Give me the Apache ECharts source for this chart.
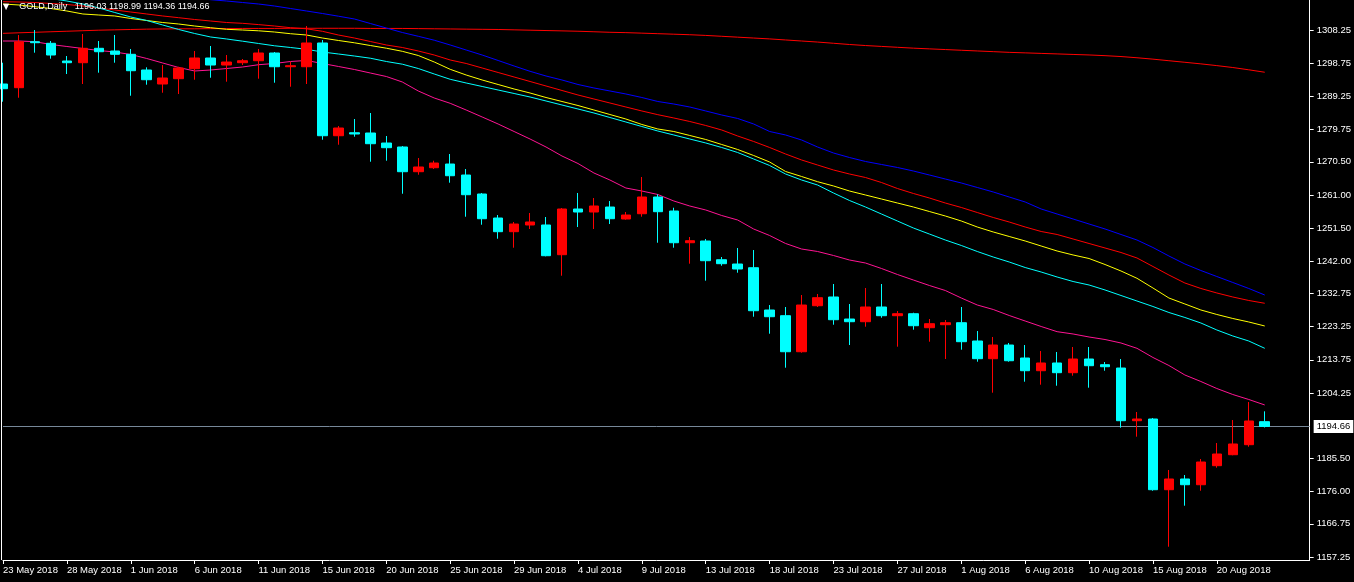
<!DOCTYPE html>
<html><head><meta charset="utf-8">
<script src="https://cdn.jsdelivr.net/npm/echarts@6/dist/echarts.min.js"></script>
<style>html,body{margin:0;padding:0;background:#000;}#c{width:1354px;height:582px;}</style>
</head><body><div id="c"></div>
<script>
const symbolName = 'GOLD,Daily';
const dates = ['23 May 2018','24 May 2018','25 May 2018','27 May 2018','28 May 2018','29 May 2018','30 May 2018','31 May 2018','1 Jun 2018','3 Jun 2018',
'4 Jun 2018','5 Jun 2018','6 Jun 2018','7 Jun 2018','8 Jun 2018','10 Jun 2018','11 Jun 2018','12 Jun 2018','13 Jun 2018','14 Jun 2018',
'15 Jun 2018','17 Jun 2018','18 Jun 2018','19 Jun 2018','20 Jun 2018','21 Jun 2018','22 Jun 2018','24 Jun 2018','25 Jun 2018','26 Jun 2018',
'27 Jun 2018','28 Jun 2018','29 Jun 2018','1 Jul 2018','2 Jul 2018','3 Jul 2018','4 Jul 2018','5 Jul 2018','6 Jul 2018','8 Jul 2018',
'9 Jul 2018','10 Jul 2018','11 Jul 2018','12 Jul 2018','13 Jul 2018','15 Jul 2018','16 Jul 2018','17 Jul 2018','18 Jul 2018','19 Jul 2018',
'20 Jul 2018','22 Jul 2018','23 Jul 2018','24 Jul 2018','25 Jul 2018','26 Jul 2018','27 Jul 2018','29 Jul 2018','30 Jul 2018','31 Jul 2018',
'1 Aug 2018','2 Aug 2018','3 Aug 2018','5 Aug 2018','6 Aug 2018','7 Aug 2018','8 Aug 2018','9 Aug 2018','10 Aug 2018','12 Aug 2018',
'13 Aug 2018','14 Aug 2018','15 Aug 2018','16 Aug 2018','17 Aug 2018','19 Aug 2018','20 Aug 2018','21 Aug 2018','22 Aug 2018','23 Aug 2018'];

const opens = [1292.78,1291.72,1304.90,1304.44,1299.37,1298.88,1303.01,1302.23,1301.29,1296.79,
1292.78,1294.30,1297.16,1300.23,1298.22,1298.88,1299.45,1301.66,1297.73,1297.73,
1304.53,1277.96,1278.82,1278.74,1275.87,1274.73,1267.65,1268.79,1269.85,1266.70,
1261.26,1254.38,1250.46,1252.38,1252.38,1243.87,1256.96,1256.10,1257.53,1254.10,
1255.61,1260.40,1256.39,1247.30,1247.79,1242.43,1241.20,1240.14,1228.02,1226.39,
1216.07,1229.25,1231.75,1225.44,1224.67,1228.88,1226.39,1226.96,1222.95,1223.81,
1224.38,1219.14,1214.07,1217.99,1214.27,1210.63,1212.84,1210.06,1213.98,1212.35,
1211.40,1196.30,1196.79,1176.53,1179.60,1177.96,1183.41,1186.56,1189.43,1196.03];
const closes = [1291.43,1304.90,1304.61,1301.09,1298.88,1303.01,1302.03,1301.29,1296.59,1294.01,
1294.50,1297.36,1300.23,1298.22,1299.08,1299.45,1301.66,1297.73,1298.02,1304.53,
1277.96,1280.17,1278.45,1275.67,1274.53,1267.65,1269.00,1270.14,1266.50,1261.06,
1254.18,1250.46,1252.66,1253.24,1243.58,1256.96,1256.10,1257.82,1254.18,1255.24,
1260.40,1256.19,1247.30,1247.88,1242.15,1241.29,1239.77,1227.82,1226.10,1216.07,
1229.45,1231.55,1225.24,1224.67,1228.88,1226.39,1226.96,1223.52,1224.10,1224.38,
1218.94,1214.07,1217.99,1213.49,1210.63,1212.84,1210.06,1213.98,1212.06,1211.77,
1196.30,1196.79,1176.53,1179.60,1177.96,1184.47,1186.76,1189.63,1196.22,1194.66];
const lows = [1287.71,1288.85,1301.75,1300.03,1295.64,1292.78,1296.02,1298.88,1289.42,1292.58,
1290.28,1289.91,1294.01,1294.58,1293.44,1298.22,1294.30,1293.15,1292.00,1292.78,
1276.82,1275.38,1277.68,1270.51,1270.80,1261.34,1266.79,1268.42,1264.50,1254.75,
1252.46,1248.45,1245.87,1251.23,1243.40,1237.85,1251.80,1251.23,1252.66,1253.90,
1254.75,1247.30,1245.87,1241.29,1236.42,1240.71,1238.71,1226.10,1221.23,1211.49,
1215.79,1228.88,1223.81,1217.99,1223.24,1225.81,1217.51,1222.38,1218.94,1213.98,
1216.65,1213.21,1204.33,1213.21,1207.48,1206.62,1206.33,1209.20,1205.76,1210.63,
1194.30,1191.72,1176.24,1160.20,1171.95,1176.24,1182.84,1186.40,1188.85,1194.36];
const highs = [1298.88,1306.82,1308.25,1305.10,1300.80,1307.10,1305.10,1306.82,1302.81,1297.56,
1298.22,1297.73,1302.23,1303.67,1301.09,1299.94,1302.81,1301.95,1299.17,1309.40,
1305.38,1280.74,1282.75,1284.47,1277.88,1275.00,1271.57,1270.80,1272.72,1268.42,
1261.55,1255.24,1253.24,1255.82,1254.67,1257.25,1261.55,1260.11,1259.25,1256.10,
1266.13,1261.17,1257.33,1248.94,1248.37,1243.21,1245.79,1245.21,1229.45,1228.88,
1232.32,1232.61,1235.47,1229.74,1234.33,1235.47,1227.73,1227.25,1225.44,1225.16,
1228.88,1222.00,1220.29,1218.57,1217.99,1216.27,1215.99,1217.42,1217.42,1213.12,
1213.98,1198.80,1197.08,1182.18,1180.74,1185.33,1189.91,1196.50,1201.66,1198.99];

const maPink = [1305.10,1305.10,1304.90,1304.10,1303.53,1302.95,1302.38,1301.95,1301.23,1300.09,
1298.80,1297.51,1296.51,1296.79,1297.22,1297.65,1298.31,1298.66,1299.23,1299.52,
1298.66,1297.80,1296.94,1295.93,1294.93,1293.36,1290.78,1288.77,1287.25,1285.33,
1283.33,1281.32,1279.17,1277.02,1274.73,1272.15,1270.00,1267.28,1265.27,1262.98,
1262.12,1261.12,1259.26,1257.82,1256.68,1255.10,1253.81,1251.23,1249.37,1247.08,
1245.50,1244.79,1243.64,1242.35,1241.49,1239.92,1238.20,1236.62,1235.05,1233.61,
1231.46,1229.46,1228.17,1226.45,1224.87,1223.30,1221.81,1221.15,1220.29,1219.57,
1218.57,1217.05,1214.42,1212.12,1209.40,1207.54,1205.53,1203.81,1202.38,1200.81];
const maCyan = [1319.72,1318.57,1317.71,1317.28,1316.56,1315.70,1314.56,1313.27,1311.98,1310.98,
1309.69,1308.40,1307.25,1306.25,1305.68,1305.05,1304.39,1303.73,1303.24,1302.72,
1301.95,1301.38,1300.80,1300.17,1299.23,1298.46,1297.22,1295.65,1294.13,1293.07,
1292.07,1291.06,1290.06,1289.06,1287.91,1286.76,1285.62,1284.47,1283.18,1281.89,
1280.60,1279.31,1278.17,1277.02,1275.88,1274.59,1273.15,1271.29,1269.43,1266.99,
1265.27,1263.84,1261.55,1259.40,1257.54,1255.53,1253.53,1251.52,1249.80,1248.08,
1246.51,1244.79,1243.21,1241.78,1240.20,1238.91,1237.48,1236.19,1235.19,1233.76,
1232.18,1230.60,1229.03,1227.31,1225.88,1224.30,1222.30,1220.58,1219.14,1217.05];
const maYellow = [1315.70,1315.42,1314.93,1314.41,1313.70,1312.84,1312.55,1312.27,1311.55,1310.98,
1310.40,1309.97,1309.40,1308.91,1308.45,1308.25,1308.03,1307.68,1307.19,1306.82,
1305.96,1305.25,1304.59,1303.81,1303.04,1302.15,1300.95,1299.09,1296.99,1295.36,
1293.93,1292.64,1291.35,1290.20,1288.91,1287.77,1286.62,1285.33,1284.04,1282.75,
1281.18,1279.89,1279.17,1278.03,1276.88,1275.45,1274.01,1272.29,1270.43,1267.71,
1266.28,1264.79,1263.56,1262.12,1260.98,1259.83,1258.68,1257.54,1256.25,1254.96,
1253.53,1251.81,1250.38,1249.09,1247.80,1246.36,1244.93,1243.79,1242.78,1241.06,
1239.20,1237.11,1234.33,1231.46,1229.75,1228.03,1226.74,1225.59,1224.59,1223.44];
const maRed = [1316.36,1316.28,1316.13,1315.85,1315.56,1315.13,1314.56,1313.99,1313.41,1312.84,
1312.27,1311.78,1311.26,1310.83,1310.40,1310.17,1309.80,1309.40,1308.91,1308.60,
1307.88,1306.82,1305.96,1304.96,1303.96,1303.24,1302.24,1301.09,1299.66,1298.66,
1297.37,1296.08,1294.79,1293.50,1292.21,1290.92,1289.63,1288.48,1287.34,1286.19,
1285.05,1283.99,1283.04,1282.04,1280.89,1279.60,1277.88,1276.31,1274.59,1272.72,
1271.01,1269.57,1268.14,1266.99,1265.99,1264.56,1262.84,1261.41,1260.12,1258.68,
1257.40,1255.96,1254.53,1253.24,1251.81,1250.52,1249.66,1248.37,1247.08,1245.79,
1244.50,1242.93,1240.49,1238.05,1235.76,1234.19,1232.90,1231.75,1230.75,1229.95];
const maBlue = [null,null,null,null,null,null,null,null,null,null,
1318.28,1317.85,1317.28,1316.94,1316.56,1316.13,1315.70,1315.13,1314.41,1313.70,
1312.98,1312.21,1311.41,1310.12,1308.83,1307.54,1306.45,1305.33,1303.96,1302.52,
1301.09,1299.52,1297.94,1296.42,1295.07,1293.93,1292.64,1291.64,1290.78,1289.92,
1288.91,1287.77,1287.05,1286.19,1285.05,1283.90,1282.90,1281.32,1279.17,1278.17,
1276.74,1274.73,1273.01,1271.72,1270.58,1269.72,1268.86,1267.85,1266.71,1265.56,
1264.42,1263.13,1261.84,1260.40,1258.97,1256.97,1255.53,1254.10,1252.67,1251.24,
1249.66,1248.08,1245.93,1243.50,1241.21,1239.34,1237.62,1235.91,1234.19,1232.32];
const ma200 = [1307.30,1307.45,1307.60,1307.75,1307.90,1308.05,1308.20,1308.30,1308.40,1308.50,
1308.55,1308.60,1308.60,1308.65,1308.65,1308.70,1308.70,1308.70,1308.75,1308.75,
1308.75,1308.75,1308.75,1308.70,1308.70,1308.70,1308.65,1308.60,1308.55,1308.50,
1308.45,1308.40,1308.30,1308.20,1308.10,1308.00,1307.90,1307.75,1307.60,1307.50,
1307.35,1307.20,1307.05,1306.90,1306.70,1306.45,1306.20,1305.95,1305.70,1305.40,
1305.10,1304.80,1304.45,1304.10,1303.80,1303.55,1303.30,1303.05,1302.85,1302.65,
1302.45,1302.25,1302.05,1301.85,1301.70,1301.55,1301.40,1301.25,1301.10,1300.90,
1300.65,1300.30,1299.90,1299.45,1299.00,1298.55,1298.05,1297.50,1296.85,1296.15];

const yTicks = [1308.25,1298.75,1289.25,1279.75,1270.50,1261.00,1251.50,1242.00,1232.75,1223.25,1213.75,1204.25,1185.50,1176.00,1166.75,1157.25];
const xTickIdx = [0,4,8,12,16,20,24,28,32,36,40,44,48,52,56,60,64,68,72,76];

const font = '"Liberation Sans", Arial, sans-serif';
const n = dates.length, last = n - 1;
const candle = dates.map((d, i) => [i, opens[i], closes[i], lows[i], highs[i]]);
const toLine = arr => arr.map((v, i) => [i, v]).filter(p => p[1] != null);
const lineSeries = (name, arr, color) => ({
  type: 'line', name, data: toLine(arr), showSymbol: false, symbol: 'none',
  lineStyle: { color, width: 1 }, itemStyle: { color }, z: 2, silent: true, clip: true
});
const header = symbolName + '   ' + [opens[last], highs[last], lows[last], closes[last]].map(v => v.toFixed(2)).join(' ');

const chart = echarts.init(document.getElementById('c'));
chart.setOption({
  backgroundColor: '#000000',
  animation: false,
  title: {
    text: '{tri|▼}    ' + header, left: 3, top: 2, padding: 0,
    textStyle: { color: '#ffffff', fontSize: 9, fontWeight: 'normal', fontFamily: font,
      rich: { tri: { fontSize: 8, color: '#ffffff', fontFamily: 'DejaVu Sans' } } }
  },
  graphic: [{
    type: 'line', silent: true, z: 10,
    shape: { x1: 1.5, y1: 0, x2: 1.5, y2: 560 },
    style: { stroke: '#ffffff', lineWidth: 1 }
  }],
  grid: { left: 2, right: 43, top: 0, bottom: 22 },
  xAxis: {
    type: 'value', min: 0, max: 81.8125, splitLine: { show: false },
    axisLine: { show: true, onZero: false, lineStyle: { color: '#ffffff', width: 1 } },
    axisTick: { show: true, length: 4, customValues: xTickIdx, lineStyle: { color: '#ffffff' } },
    axisLabel: { customValues: xTickIdx, formatter: v => dates[v] || '', align: 'left', margin: 5,
      color: '#ffffff', fontSize: 9.5, fontFamily: font }
  },
  yAxis: {
    type: 'value', position: 'right', min: 1156.39, max: 1316.85, scale: true,
    splitLine: { show: false },
    axisLine: { show: true, onZero: false, lineStyle: { color: '#ffffff', width: 1 } },
    axisTick: { show: true, length: 4, customValues: yTicks, lineStyle: { color: '#ffffff' } },
    axisLabel: { customValues: yTicks, formatter: v => Number(v).toFixed(2), margin: 7,
      color: '#ffffff', fontSize: 9.5, fontFamily: font }
  },
  series: [
    lineSeries('MA200', ma200, '#ff0000'),
    lineSeries('MA blue', maBlue, '#0000ff'),
    lineSeries('MA red', maRed, '#ff0000'),
    lineSeries('MA yellow', maYellow, '#ffff00'),
    lineSeries('MA cyan', maCyan, '#00ffff'),
    lineSeries('MA pink', maPink, '#ff1493'),
    {
      type: 'candlestick', name: symbolName, data: candle,
      encode: { x: 0, y: [1, 2, 3, 4] },
      barWidth: 10, z: 3, clip: true, silent: true,
      itemStyle: { color: '#ff0000', color0: '#00ffff', borderColor: '#ff0000', borderColor0: '#00ffff', borderWidth: 1 },
      markLine: {
        silent: true, symbol: ['none', 'none'], z: 1, animation: false,
        lineStyle: { color: '#778899', width: 1, type: 'solid' },
        label: { show: true, position: 'end', distance: 4, formatter: closes[last].toFixed(2),
          backgroundColor: '#ffffff', color: '#000000', padding: [2, 3, 1, 3], fontSize: 9.5, fontFamily: font },
        data: [{ yAxis: closes[last] }]
      }
    }
  ]
});
</script></body></html>
